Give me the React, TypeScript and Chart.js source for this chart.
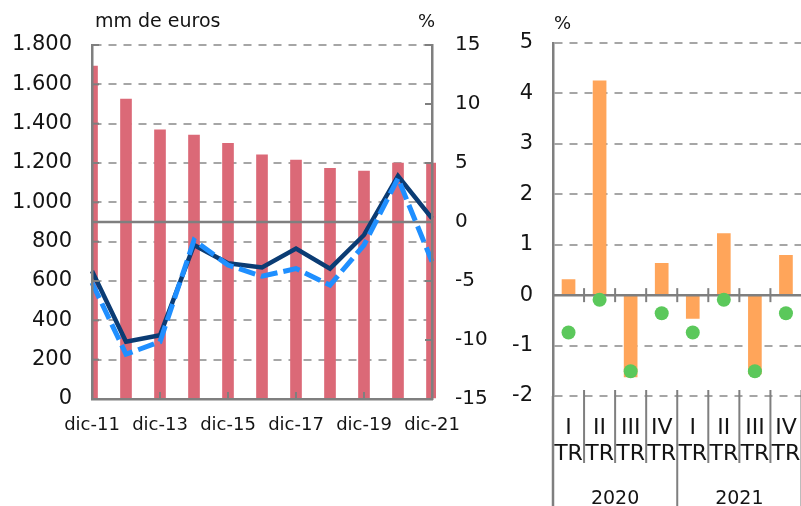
import React, { useEffect, useRef } from 'react';
import { Chart, registerables } from 'chart.js';

Chart.register(...registerables);

const FONT = '"DejaVu Sans", "Liberation Sans", sans-serif';
const TEXT = '#141414';
const GRAY = '#7f7f7f';
const GRID = '#a6a6a6';
const PINK = '#db6977';
const NAVY = '#0b3c74';
const BLUE = '#1f8fff';
const ORANGE = '#ffa55a';
const GREEN = '#5bc85b';

// Left chart: annual data
const annualLabels = ['dic-11', 'dic-12', 'dic-13', 'dic-14', 'dic-15', 'dic-16', 'dic-17', 'dic-18', 'dic-19', 'dic-20', 'dic-21'];
const stockValues = [1693, 1525, 1369, 1342, 1300, 1242, 1215, 1173, 1159, 1200, 1200];
const growthSolid = [-4.15, -10.15, -9.6, -1.95, -3.5, -3.85, -2.25, -3.95, -1.1, 3.9, 0.3];
const growthDashed = [-5.15, -11.2, -10.15, -1.55, -3.65, -4.6, -3.95, -5.35, -1.95, 3.7, -3.35];
const leftAxisTitle = 'mm de euros';
const rightAxisTitle = '%';

// Right chart: quarterly data
const quarterLabels = [['I', 'TR'], ['II', 'TR'], ['III', 'TR'], ['IV', 'TR'], ['I', 'TR'], ['II', 'TR'], ['III', 'TR'], ['IV', 'TR']];
const yearLabels = ['2020', '2021'];
const quarterBars = [0.31, 4.25, -1.62, 0.63, -0.46, 1.22, -1.56, 0.79];
const quarterDots = [-0.74, -0.09, -1.51, -0.36, -0.74, -0.09, -1.51, -0.36];

const fmtThousands = (v: number) => String(v).replace(/\B(?=(\d{3})+(?!\d))/g, '.');

function line(ctx: CanvasRenderingContext2D, x1: number, y1: number, x2: number, y2: number) {
  ctx.beginPath();
  ctx.moveTo(x1, y1);
  ctx.lineTo(x2, y2);
  ctx.stroke();
}

const leftDecor = {
  id: 'leftDecor',
  afterDatasetDraw(chart: any, args: any) {
    if (args.index !== 0) return;
    const { ctx, chartArea: a, scales } = chart;
    const y0 = scales.y1.getPixelForValue(0);
    ctx.save();
    ctx.strokeStyle = GRAY;
    ctx.lineWidth = 2.5;
    line(ctx, a.left, y0, a.right, y0);
    ctx.restore();
  },
  afterDraw(chart: any) {
    const { ctx, chartArea: a, scales } = chart;
    ctx.save();
    ctx.strokeStyle = GRAY;
    ctx.lineWidth = 2;
    scales.y.ticks.forEach((t: any) => {
      const py = scales.y.getPixelForValue(t.value);
      line(ctx, a.left, py, a.left + 7, py);
    });
    scales.y1.ticks.forEach((t: any) => {
      const py = scales.y1.getPixelForValue(t.value);
      line(ctx, a.right - 7, py, a.right, py);
    });
    annualLabels.forEach((_, i) => {
      if (i % 2 === 0) {
        const px = scales.x.getPixelForValue(i);
        line(ctx, px, a.bottom - 7, px, a.bottom);
      }
    });
    ctx.fillStyle = TEXT;
    ctx.font = `19px ${FONT}`;
    ctx.textBaseline = 'alphabetic';
    ctx.textAlign = 'left';
    ctx.fillText(leftAxisTitle, a.left + 3, a.top - 18);
    ctx.font = `18px ${FONT}`;
    ctx.fillText(rightAxisTitle, a.right - 14, a.top - 18);
    ctx.restore();
  },
};

const rightDecor = {
  id: 'rightDecor',
  afterDatasetDraw(chart: any, args: any) {
    if (args.index !== 0) return;
    const { ctx, chartArea: a, scales } = chart;
    const y0 = scales.y.getPixelForValue(0);
    ctx.save();
    ctx.strokeStyle = GRAY;
    ctx.lineWidth = 2.5;
    line(ctx, a.left, y0, a.right, y0);
    ctx.lineWidth = 2;
    for (let i = 1; i < quarterLabels.length; i++) {
      const bx = (scales.x.getPixelForValue(i - 1) + scales.x.getPixelForValue(i)) / 2;
      line(ctx, bx, y0 - 7, bx, y0 + 7);
    }
    ctx.restore();
  },
  afterDraw(chart: any) {
    const { ctx, chartArea: a, scales, height } = chart;
    ctx.save();
    ctx.strokeStyle = GRAY;
    ctx.lineWidth = 2.5;
    line(ctx, a.left, a.bottom, a.left, height);
    ctx.lineWidth = 2;
    for (let i = 1; i <= quarterLabels.length; i++) {
      const prev = scales.x.getPixelForValue(i - 1);
      const next = i < quarterLabels.length ? scales.x.getPixelForValue(i) : prev + (prev - scales.x.getPixelForValue(i - 2));
      const bx = (prev + next) / 2;
      if (i % 4 === 0) {
        line(ctx, bx, a.bottom - 6, bx, height);
      } else {
        line(ctx, bx, a.bottom - 6, bx, a.bottom + 67);
      }
    }
    ctx.fillStyle = TEXT;
    ctx.font = `19px ${FONT}`;
    ctx.textAlign = 'center';
    ctx.textBaseline = 'alphabetic';
    yearLabels.forEach((yl, g) => {
      const first = scales.x.getPixelForValue(g * 4);
      const last = scales.x.getPixelForValue(g * 4 + 3);
      ctx.fillText(yl, (first + last) / 2, a.bottom + 108);
    });
    ctx.textAlign = 'left';
    ctx.font = `18px ${FONT}`;
    ctx.fillText(rightAxisTitle, a.left + 1, a.top - 14);
    ctx.restore();
  },
};

export default function App() {
  const leftRef = useRef<HTMLCanvasElement>(null);
  const rightRef = useRef<HTMLCanvasElement>(null);

  useEffect(() => {
    const left = new Chart(leftRef.current as HTMLCanvasElement, {
      type: 'bar',
      data: {
        labels: annualLabels,
        datasets: [
          {
            type: 'bar',
            data: stockValues,
            backgroundColor: PINK,
            barThickness: 11,
            yAxisID: 'y',
            order: 3,
            clip: { left: 0, top: 0, right: 4, bottom: 0 },
          } as any,
          {
            type: 'line',
            data: growthSolid,
            borderColor: NAVY,
            borderWidth: 4.5,
            pointRadius: 0,
            yAxisID: 'y1',
            order: 2,
            tension: 0,
          },
          {
            type: 'line',
            data: growthDashed,
            borderColor: BLUE,
            borderWidth: 5,
            borderDash: [17, 6],
            pointRadius: 0,
            yAxisID: 'y1',
            order: 1,
            tension: 0,
          },
        ],
      },
      options: {
        responsive: false,
        animation: false,
        layout: { padding: { top: 45, left: 0, right: 0, bottom: 0 } },
        plugins: { legend: { display: false }, tooltip: { enabled: false } },
        scales: {
          x: {
            type: 'category',
            offset: false,
            grid: { display: false, drawTicks: false },
            border: { display: true, color: GRAY, width: 2.5, z: 1 },
            ticks: {
              autoSkip: false,
              maxRotation: 0,
              padding: 16,
              color: TEXT,
              font: { family: FONT, size: 18 },
              callback: function (this: any, val: any, idx: number) {
                return idx % 2 === 0 ? annualLabels[idx] : '';
              },
            },
            afterFit: (s: any) => { s.height = 107; },
          },
          y: {
            position: 'left',
            min: 0,
            max: 1800,
            ticks: {
              stepSize: 200,
              padding: 20,
              color: TEXT,
              font: { family: FONT, size: 21 },
              callback: (v: any) => fmtThousands(Number(v)),
            },
            grid: { color: GRID, lineWidth: 2, drawTicks: false },
            border: { color: GRAY, width: 2.5, dash: [8, 7], z: 1 },
            afterFit: (s: any) => { s.width = 92; },
          },
          y1: {
            position: 'right',
            min: -15,
            max: 15,
            ticks: {
              stepSize: 5,
              padding: 23,
              color: TEXT,
              font: { family: FONT, size: 20 },
              callback: (v: any) => String(v),
            },
            grid: { display: false, drawTicks: false },
            border: { color: GRAY, width: 2.5, z: 1 },
            afterFit: (s: any) => { s.width = 68; },
          },
        },
      } as any,
      plugins: [leftDecor],
    });

    const right = new Chart(rightRef.current as HTMLCanvasElement, {
      type: 'bar',
      data: {
        labels: quarterLabels,
        datasets: [
          {
            type: 'bar',
            data: quarterBars,
            backgroundColor: ORANGE,
            barThickness: 13,
            order: 2,
          },
          {
            type: 'line',
            data: quarterDots,
            showLine: false,
            pointRadius: 7,
            pointBackgroundColor: GREEN,
            pointBorderColor: GREEN,
            pointBorderWidth: 0,
            order: 1,
          },
        ],
      },
      options: {
        responsive: false,
        animation: false,
        layout: { padding: { top: 43, left: 0, right: 11, bottom: 0 } },
        plugins: { legend: { display: false }, tooltip: { enabled: false } },
        scales: {
          x: {
            offset: true,
            grid: { display: false, drawTicks: false },
            border: { display: false },
            ticks: {
              autoSkip: false,
              maxRotation: 0,
              padding: 19,
              color: TEXT,
              font: { family: FONT, size: 22, lineHeight: 1.2 },
            },
            afterFit: (s: any) => { s.height = 110; },
          },
          y: {
            min: -2,
            max: 5,
            ticks: {
              stepSize: 1,
              padding: 20,
              color: TEXT,
              font: { family: FONT, size: 21 },
              callback: (v: any) => String(v),
            },
            grid: { color: GRID, lineWidth: 2, drawTicks: false },
            border: { color: GRAY, width: 2.5, dash: [8, 7], z: 1 },
            afterFit: (s: any) => { s.width = 63; },
          },
        },
      } as any,
      plugins: [rightDecor],
    });

    return () => {
      left.destroy();
      right.destroy();
    };
  }, []);

  return (
    <div style={{ position: 'fixed', left: 0, top: 0, width: 801, height: 506, overflow: 'hidden', background: '#fff' }}>
      <canvas ref={leftRef} width={500} height={506} style={{ position: 'absolute', left: 0, top: 0, display: 'block' }} />
      <canvas ref={rightRef} width={330} height={506} style={{ position: 'absolute', left: 490, top: 0, display: 'block' }} />
    </div>
  );
}
